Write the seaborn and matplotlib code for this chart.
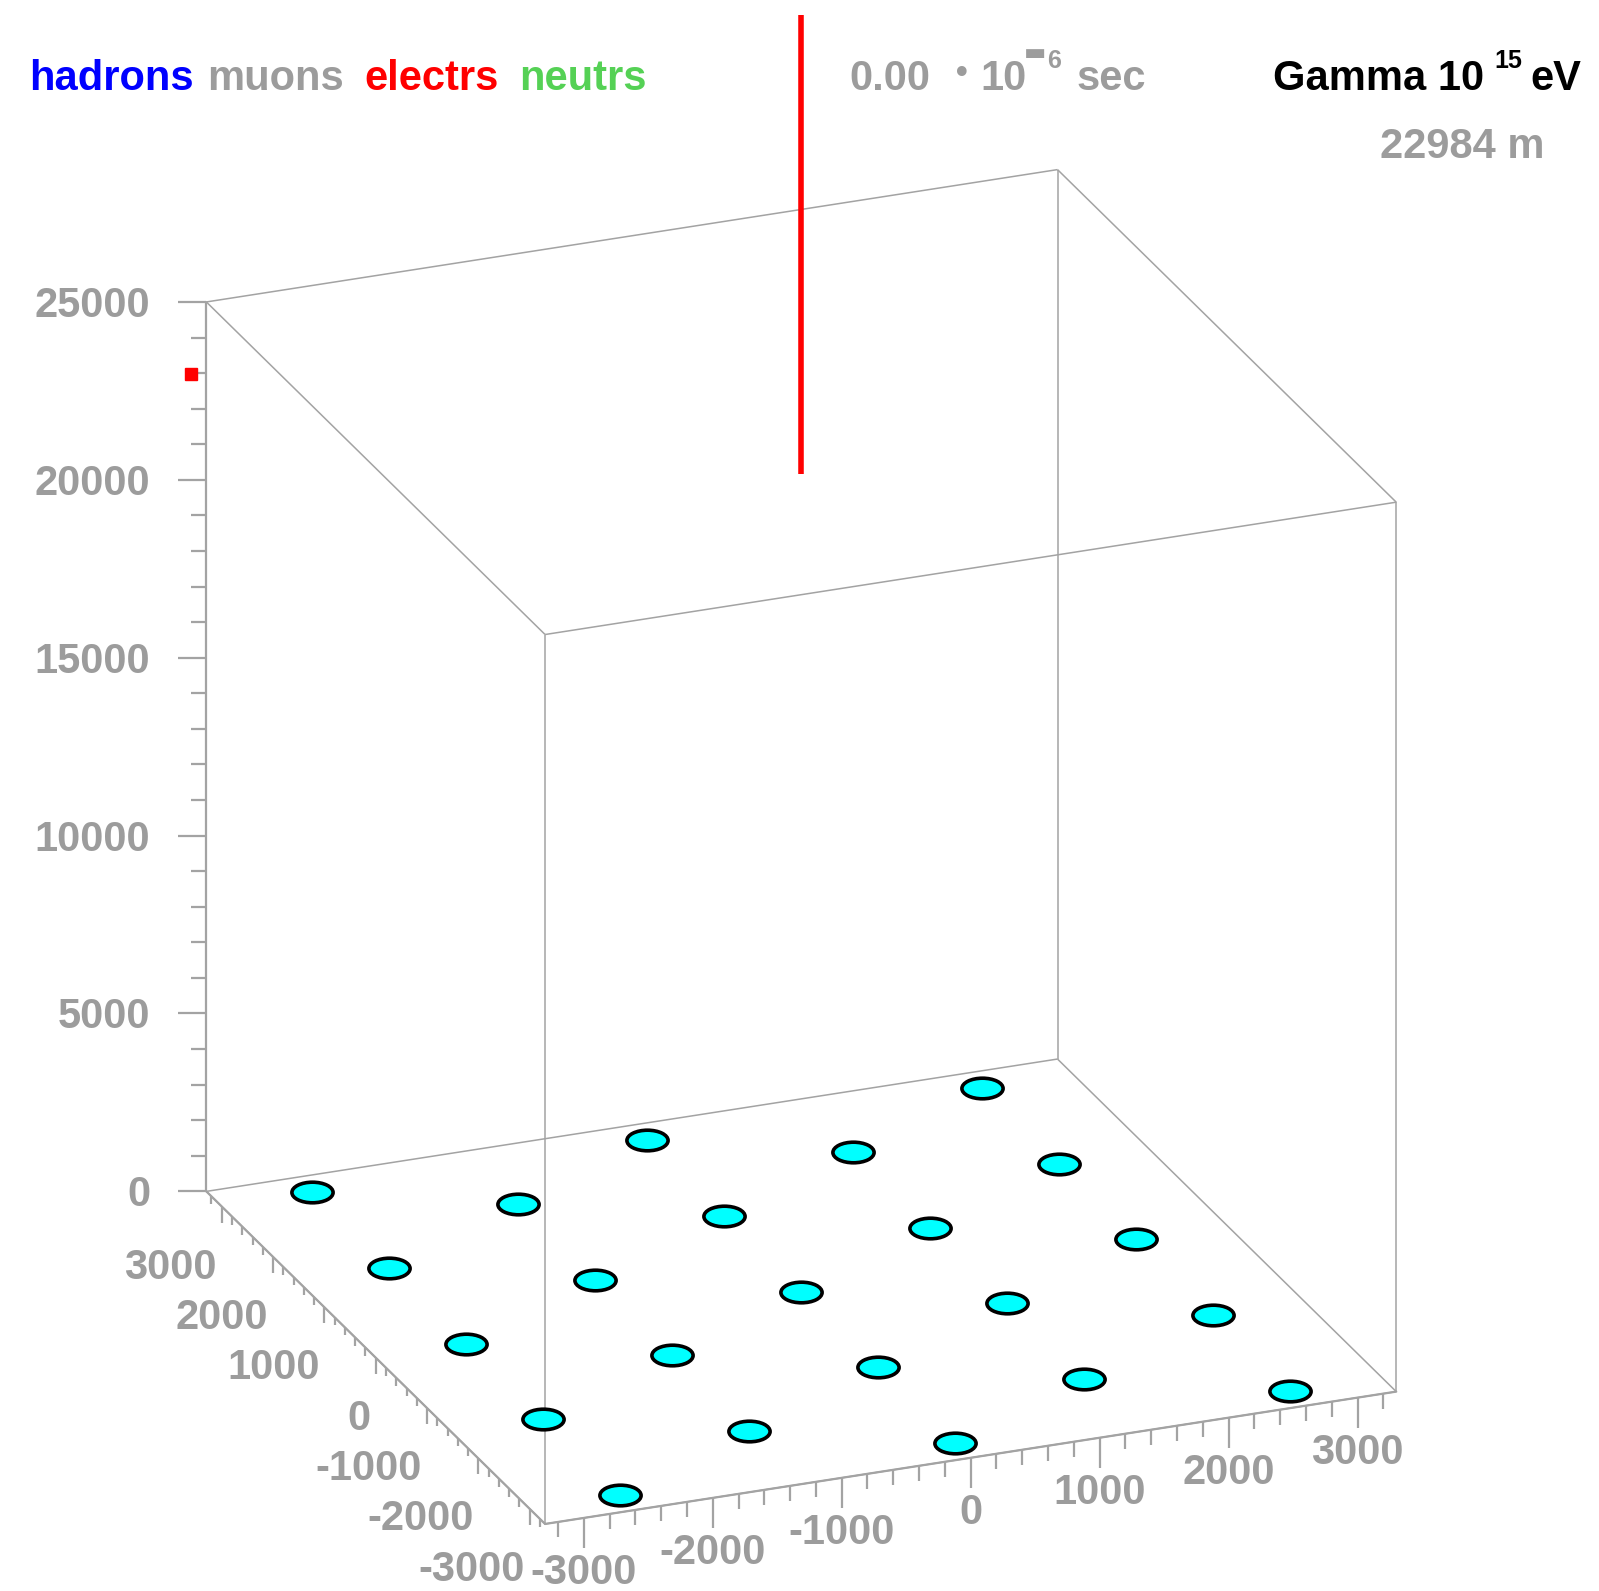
import numpy as np
import pandas as pd
import matplotlib
matplotlib.use("Agg")
import matplotlib.pyplot as plt
from matplotlib.path import Path
from matplotlib.markers import MarkerStyle
from matplotlib.collections import LineCollection
import seaborn as sns

# ---------------- data ----------------
# ground detector array (triangular grid, 1500 m spacing), metres
det_x = [-2598, -2598, -2598, -2598, -2598,
         -1299, -1299, -1299, -1299,
         0, 0, 0, 0, 0,
         1299, 1299, 1299, 1299,
         2598, 2598, 2598, 2598, 2598]
det_y = [3000, 1500, 0, -1500, -3000,
         2250, 750, -750, -2250,
         3000, 1500, 0, -1500, -3000,
         2250, 750, -750, -2250,
         3000, 1500, 0, -1500, -3000]

# plotting volume
x_range = [-3300, 3300]
y_range = [-3300, 3300]
z_range = [0, 25000]

# ground axis ticks
xy_major = [-3000, -2000, -1000, 0, 1000, 2000, 3000]
xy_minor = list(range(-3200, 3201, 200))
z_major = [0, 5000, 10000, 15000, 20000, 25000]
z_minor = list(range(0, 25001, 1000))

# primary particle track
core_x, core_y = 0, 0
current_height = 22984      # m
track_top = 35880           # m

time_value = "0.00"
primary_label = "Gamma 10"
energy_exp = "15"
species = ["hadrons", "muons", "electrs", "neutrs"]
species_colors = ["#0000ff", "#9c9c9c", "#ff0000", "#55d155"]

# ---------------- view ----------------
ELEV = np.radians(23.0)
AZIM = np.radians(248.3)
S_H, S_Z = 0.1388, 0.03865     # px per metre (horizontal / vertical)
U0, V0 = 801.3, 1291.5          # screen position of (0, 0, 0)


def project(x, y, z):
    x = np.asarray(x, float)
    y = np.asarray(y, float)
    z = np.asarray(z, float)
    u = U0 + S_H * (-np.sin(AZIM) * x + np.cos(AZIM) * y)
    up = S_H * (-np.sin(ELEV) * np.cos(AZIM) * x - np.sin(ELEV) * np.sin(AZIM) * y) \
        + S_Z * np.cos(ELEV) * z
    return u, V0 - up


sns.set_theme(style="white")
plt.rcParams["font.family"] = ["Liberation Sans", "DejaVu Sans"]

GRAY = "#9c9c9c"
EDGE = "#a3a3a3"

fig = plt.figure(figsize=(15.99, 15.91), dpi=100)
ax = fig.add_axes([0, 0, 1, 1])

# ---------------- box ----------------
x0, x1 = x_range
y0, y1 = y_range
z0, z1 = z_range
corners = {}
for xi in (x0, x1):
    for yi in (y0, y1):
        for zi in (z0, z1):
            corners[(xi, yi, zi)] = project(xi, yi, zi)
edges = []
for a in corners:
    for b in corners:
        if a < b and sum(p != q for p, q in zip(a, b)) == 1:
            edges.append([corners[a], corners[b]])
ax.add_collection(LineCollection(edges, colors=EDGE, linewidths=1.1, zorder=1))

# ---------------- axes ticks ----------------
tick_segs = []
# x axis along the front edge (y = y0, z = 0), ticks point down
for t in xy_minor:
    u, v = project(t, y0, 0)
    L = 30 if t in xy_major else 15
    tick_segs.append([(u, v), (u, v + L)])
for t in xy_major:
    u, v = project(t, y0, 0)
    ax.text(u, v + 66, f"{t}", ha="center", va="baseline", fontsize=30,
            fontweight="bold", color=GRAY)
# y axis along the left edge (x = x0, z = 0), ticks point down
for t in xy_minor:
    u, v = project(x0, t, 0)
    L = 16 if t in xy_major else 8
    tick_segs.append([(u, v), (u, v + L)])
for t in xy_major:
    u, v = project(x0, t, 0)
    ax.text(u - 5, v + 72, f"{t}", ha="right", va="baseline", fontsize=30,
            fontweight="bold", color=GRAY)
# z axis on the back-left vertical edge, ticks point left
for t in z_minor:
    u, v = project(x0, y1, t)
    L = 28 if t in z_major else 15
    tick_segs.append([(u, v), (u - L, v)])
for t in z_major:
    u, v = project(x0, y1, t)
    ax.text(u - 56, v + 15, f"{t}", ha="right", va="baseline", fontsize=30,
            fontweight="bold", color=GRAY)
ax.add_collection(LineCollection(tick_segs, colors=EDGE, linewidths=1.6, zorder=2))
# axis lines drawn slightly heavier
for a, b in ([(x0, y0, 0), (x1, y0, 0)], [(x0, y0, 0), (x0, y1, 0)],
             [(x0, y1, 0), (x0, y1, z1)]):
    ua, va = project(*a)
    ub, vb = project(*b)
    ax.plot([ua, ub], [va, vb], color=EDGE, lw=1.6, zorder=2)

# ---------------- detectors ----------------
du, dv = project(det_x, det_y, np.zeros(len(det_x)))
det = pd.DataFrame({"u": du, "v": dv})
circ = Path.unit_circle()
ell = Path(circ.vertices * np.array([1.0, 0.5]), circ.codes)
sns.scatterplot(data=det, x="u", y="v", ax=ax, marker=MarkerStyle(ell), s=880,
                color="#00ffff", edgecolor="black", linewidth=2.6, zorder=4,
                legend=False)

# ---------------- primary track ----------------
tu, tv = project([core_x, core_x], [core_y, core_y], [current_height, track_top])
ax.plot(tu, tv, color="#ff0000", lw=4.0, solid_capstyle="butt", zorder=5)
hu, hv = project(x0, y1, current_height)
ax.plot([hu - 15], [hv], marker="s", ms=9, color="#ff0000", zorder=5)

ax.set_xlim(0, 1599)
ax.set_ylim(1591, 0)
ax.axis("off")

# ---------------- header text ----------------
sx = [29, 207, 364, 519]
for name, col, xx in zip(species, species_colors, sx):
    ax.text(xx, 90, name, color=col, fontsize=30, fontweight="bold",
            ha="left", va="baseline")

ax.text(849, 90, time_value, color=GRAY, fontsize=30, fontweight="bold",
        ha="left", va="baseline")
ax.text(962, 75, "•", color=GRAY, fontsize=24, ha="center", va="center",
        family=["DejaVu Sans"])
ax.text(980, 90, "10", color=GRAY, fontsize=30, fontweight="bold",
        ha="left", va="baseline")
ax.text(1024, 53, "▬", color=GRAY, fontsize=17, ha="left", va="center",
        family=["DejaVu Sans"])
ax.text(1047, 68, "6", color=GRAY, fontsize=18, fontweight="bold",
        ha="left", va="baseline")
ax.text(1077, 90, "sec", color=GRAY, fontsize=30, fontweight="bold",
        ha="left", va="baseline")

ax.text(1273, 90, primary_label, color="black", fontsize=30, fontweight="bold",
        ha="left", va="baseline")
ax.text(1494, 68, energy_exp, color="black", fontsize=18, fontweight="bold",
        ha="left", va="baseline")
ax.text(1530, 90, "eV", color="black", fontsize=30, fontweight="bold",
        ha="left", va="baseline")
ax.text(1380, 158, f"{current_height} m", color=GRAY, fontsize=30,
        fontweight="bold", ha="left", va="baseline")

fig.savefig("out.png", dpi=100, facecolor="white")
